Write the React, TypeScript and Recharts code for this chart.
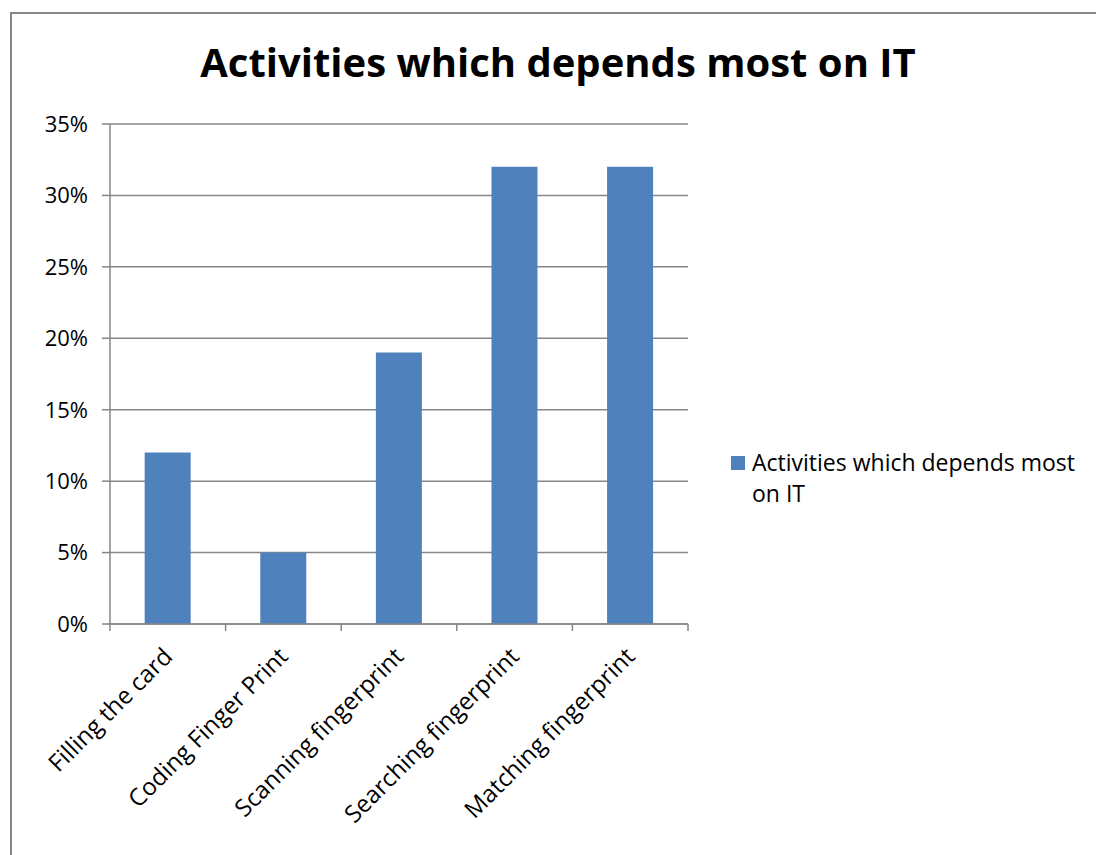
import { BarChart, Bar, XAxis, YAxis, CartesianGrid, Legend } from 'recharts';

const activities = [
  'Filling the card',
  'Coding Finger Print',
  'Scanning fingerprint',
  'Searching fingerprint',
  'Matching fingerprint',
];
const shares = [12, 5, 19, 32, 32];
const percentTicks = [0, 5, 10, 15, 20, 25, 30, 35];
// category boundaries, Excel style tick marks between the columns
const edgeTicks = [-0.5, 0.5, 1.5, 2.5, 3.5, 4.5];

const seriesName = 'Activities which depends most on IT';
const FONT = '"Open Sans", sans-serif';
const GREY = '#868686';
const BLUE = '#4F81BD';

const data = activities.map((name, i) => ({ name, slot: i, share: shares[i] }));

function SlantedTick(props: any) {
  const { x, y, payload } = props;
  const tx = x + 6;
  const ty = y + 18;
  return (
    <text
      x={tx}
      y={ty}
      transform={`rotate(-45, ${tx}, ${ty})`}
      textAnchor="end"
      fontFamily={FONT}
      fontSize={24}
      fill="#000"
    >
      {payload.value}
    </text>
  );
}

const NoLabel = () => <g />;

function LegendBox(props: any) {
  const item = props.payload?.[0];
  if (!item) return null;
  return (
    <div style={{ display: 'flex', alignItems: 'flex-start', fontFamily: FONT, fontSize: 23, lineHeight: '31px', color: '#000', textAlign: 'left' }}>
      <span style={{ width: 14, height: 14, background: BLUE, marginTop: 9, marginRight: 7, flex: 'none' }} />
      <span style={{ width: 340 }}>{item.value}</span>
    </div>
  );
}

export default function App() {
  return (
    <div style={{ position: 'absolute', left: 0, top: 0, width: 1096, height: 855, background: '#fff', overflow: 'hidden' }}>
      <div style={{ position: 'absolute', left: 10, top: 12, width: 1200, height: 900, borderLeft: `2px solid ${GREY}`, borderTop: `2px solid ${GREY}` }} />
      <div style={{ position: 'absolute', left: 0, top: 34, width: 1116, textAlign: 'center', fontFamily: FONT, fontWeight: 700, fontSize: 40, color: '#000' }}>
        {seriesName}
      </div>
      <BarChart
        width={1096}
        height={855}
        data={data}
        margin={{ top: 124, right: 408, bottom: 0, left: 20 }}
        barCategoryGap="30%"
      >
        <CartesianGrid xAxisId="cat" vertical={false} stroke={GREY} strokeWidth={1.5} />
        <XAxis
          xAxisId="bounds"
          dataKey="slot"
          type="number"
          domain={[-0.5, 4.5]}
          ticks={edgeTicks}
          interval={0}
          allowDataOverflow
          tick={<NoLabel />}
          height={8}
          tickSize={7}
          axisLine={{ stroke: GREY, strokeWidth: 1.5 }}
          tickLine={{ stroke: GREY, strokeWidth: 1.5 }}
        />
        <XAxis
          xAxisId="cat"
          dataKey="name"
          interval={0}
          height={223}
          axisLine={false}
          tickLine={false}
          tick={<SlantedTick />}
        />
        <YAxis
          domain={[0, 35]}
          ticks={percentTicks}
          tickFormatter={(v: number) => `${v}%`}
          width={90}
          tickSize={8}
          tickMargin={14}
          axisLine={{ stroke: GREY, strokeWidth: 1.5 }}
          tickLine={{ stroke: GREY, strokeWidth: 1.5 }}
          tick={{ fill: '#000', fontFamily: FONT, fontSize: 22 }}
        />
        <Legend
          layout="horizontal"
          verticalAlign="middle"
          align="center"
          content={<LegendBox />}
          wrapperStyle={{ left: 731, top: 447, width: 360 }}
        />
        <Bar xAxisId="cat" dataKey="share" name={seriesName} fill={BLUE} isAnimationActive={false} />
      </BarChart>
    </div>
  );
}
